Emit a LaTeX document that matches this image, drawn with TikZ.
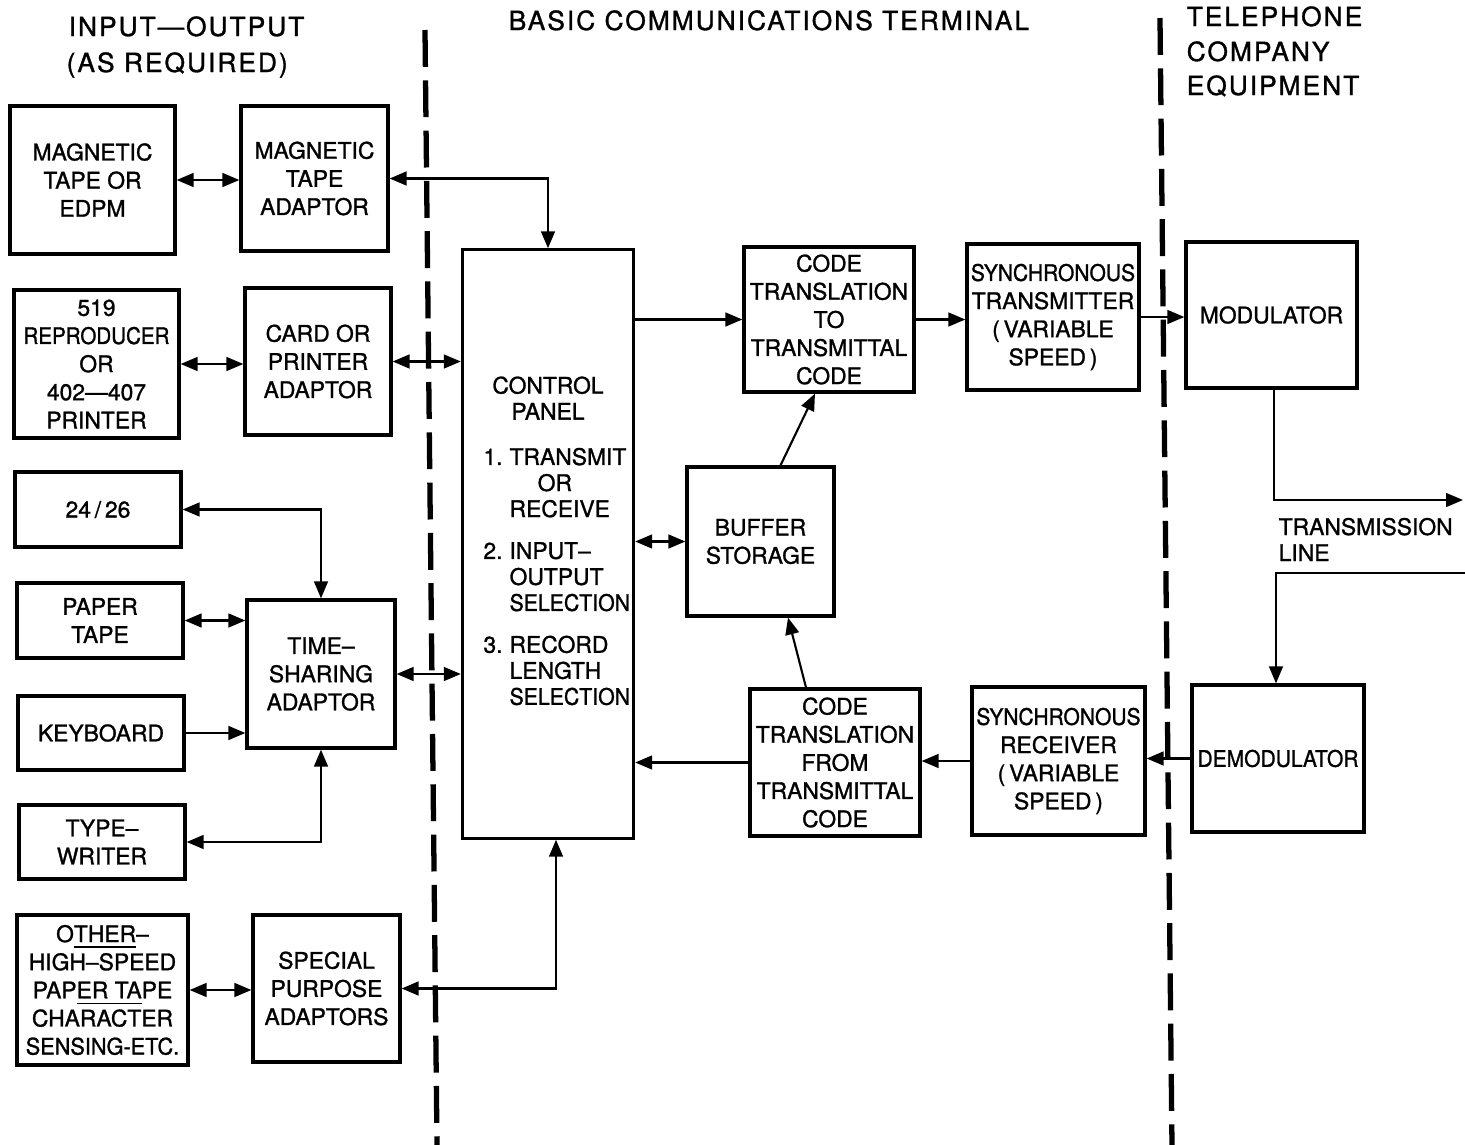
\documentclass[tikz,border=0pt]{standalone}
\usepackage{fontspec}
\setmainfont{TeX Gyre Heros}[FakeBold=1.2]
\usepackage{graphicx}
\usetikzlibrary{arrows.meta}

\newcommand{\squeeze}[2][0.9]{\scalebox{#1}[1]{#2}}

\begin{document}
\begin{tikzpicture}[
    x=0.01cm, y=-0.01cm,
    box/.style={draw, line width=0.9pt, align=center, inner sep=1pt, font=\fontsize{6.5pt}{8pt}\selectfont},
    head/.style={anchor=base west, inner sep=0pt, font=\fontsize{7.5pt}{10pt}\selectfont\addfontfeatures{LetterSpace=7.5}},
    label/.style={anchor=base west, inner sep=0pt, font=\fontsize{6.5pt}{8pt}\selectfont},
    link/.style={line width=0.6pt},
    divider/.style={line width=1.5pt, dash pattern=on 10.5pt off 3.8pt},
    >={Triangle[length=4.8pt, width=3.9pt]}
]

\useasboundingbox (0,0) rectangle (1465,1145);

\node[head] (ioA) at (68,36) {INPUT---OUTPUT};
\node[head] (ioB) at (66,72) {(AS REQUIRED)};
\node[head] (bct) at (508,30) {BASIC COMMUNICATIONS TERMINAL};
\node[head] (telA) at (1186,26) {TELEPHONE};
\node[head] (telB) at (1186,61) {COMPANY};
\node[head] (telC) at (1186,95) {EQUIPMENT};

\draw[divider] (425,30) -- (437,1145);
\draw[divider] (1160,18) -- (1172,1145);

\node[box, minimum width=1.65cm, minimum height=1.48cm] (mtape) at (92.5,180) {MAGNETIC\\TAPE OR\\EDPM};
\node[box, minimum width=1.47cm, minimum height=1.45cm] (mtadapt) at (314.5,178.5) {MAGNETIC\\TAPE\\ADAPTOR};
\node[box, minimum width=1.65cm, minimum height=1.48cm] (repro) at (96.5,364) {519\\\squeeze{REPRODUCER}\\OR\\402---407\\PRINTER};
\node[box, minimum width=1.46cm, minimum height=1.47cm] (cardadapt) at (318,361.5) {CARD OR\\PRINTER\\ADAPTOR};
\node[box, minimum width=1.66cm, minimum height=0.75cm] (tty) at (98,509.5) {24\,/\,26};
\node[box, minimum width=1.66cm, minimum height=0.75cm] (ptape) at (100,620.5) {PAPER\\TAPE};
\node[box, minimum width=1.48cm, minimum height=1.48cm] (tsadapt) at (321,674) {TIME--\\SHARING\\ADAPTOR};
\node[box, minimum width=1.66cm, minimum height=0.74cm] (keyboard) at (101,733) {KEYBOARD};
\node[box, minimum width=1.66cm, minimum height=0.74cm] (typewriter) at (102,842) {TYPE--\\WRITER};
\node[box, minimum width=1.71cm, minimum height=1.50cm] (other) at (102.5,990) {O\underline{THER}--\\HIGH--SPEED\\PAP\underline{ER TA}PE\\CHARACTER\\\squeeze[0.95]{SENSING-ETC.}};
\node[box, minimum width=1.47cm, minimum height=1.47cm] (special) at (326.5,988.5) {SPECIAL\\PURPOSE\\ADAPTORS};

\node[box, minimum width=1.70cm, minimum height=5.88cm, font=\fontsize{6.5pt}{7.4pt}\selectfont] (control) at (548,544) {%
\begin{tabular}{@{\hspace{5pt}}l@{\hspace{2pt}}l@{}}
\multicolumn{2}{c}{CONTROL}\\
\multicolumn{2}{c}{PANEL}\\[5.5pt]
1. & TRANSMIT\\
   & \hspace{8pt}OR\\
   & RECEIVE\\[4.5pt]
2. & INPUT--\\
   & OUTPUT\\
   & \squeeze[0.93]{SELECTION}\\[4.5pt]
3. & RECORD\\
   & LENGTH\\
   & \squeeze[0.93]{SELECTION}
\end{tabular}};

\node[box, minimum width=1.70cm, minimum height=1.45cm] (codeto) at (829,319.5) {CODE\\TRANSLATION\\TO\\TRANSMITTAL\\CODE};
\node[box, minimum width=1.72cm, minimum height=1.46cm] (synctx) at (1053,317) {\squeeze[0.92]{SYNCHRONOUS}\\TRANSMITTER\\(\,VARIABLE\\SPEED\,)};
\node[box, minimum width=1.47cm, minimum height=1.49cm] (buffer) at (760.5,541.5) {BUFFER\\STORAGE};
\node[box, minimum width=1.70cm, minimum height=1.47cm] (codefrom) at (835,762.5) {CODE\\TRANSLATION\\FROM\\TRANSMITTAL\\CODE};
\node[box, minimum width=1.73cm, minimum height=1.48cm] (syncrx) at (1058.5,761) {\squeeze[0.92]{SYNCHRONOUS}\\RECEIVER\\(\,VARIABLE\\SPEED\,)};
\node[box, minimum width=1.71cm, minimum height=1.46cm] (modulator) at (1271.5,315) {MODULATOR};
\node[box, minimum width=1.72cm, minimum height=1.47cm] (demod) at (1278,758.5) {\squeeze[0.92]{DEMODULATOR}};

\node[label] (lineA) at (1278,535) {TRANSMISSION};
\node[label] (lineB) at (1278,561) {LINE};

\coordinate (txline) at (1463,500);
\coordinate (rxline) at (1465,573);

\draw[link, <->] (mtape.east) -- (mtape.east -| mtadapt.west);
\draw[link, <->] (mtadapt.east) -| (control.north);
\draw[link, <->] (repro.east) -- (repro.east -| cardadapt.west);
\draw[link, <->] (cardadapt.east) -- (cardadapt.east -| control.west);
\draw[link, <->] (tty.east) -| (tsadapt.north);
\draw[link, <->] (ptape.east) -- (ptape.east -| tsadapt.west);
\draw[link, ->] (keyboard.east) -- (keyboard.east -| tsadapt.west);
\draw[link, <->] (typewriter.east) -| (tsadapt.south);
\draw[link, <->] (tsadapt.east) -- (tsadapt.east -| control.west);
\draw[link, <->] (other.east) -- (other.east -| special.west);
\draw[link, <->] (special.east) -| ([xshift=0.08cm]control.south);

\draw[link, ->] (control.east |- codeto.west) -- (codeto.west);
\draw[link, ->] (codeto.east) -- (codeto.east -| synctx.west);
\draw[link, ->] (synctx.east) -- (synctx.east -| modulator.west);
\draw[link, <->] (control.east |- buffer.west) -- (buffer.west);
\draw[link, ->] ([xshift=0.2cm]buffer.north) -- ([xshift=-0.14cm]codeto.south);
\draw[link, ->] ([xshift=-0.29cm]codefrom.north) -- ([xshift=0.275cm]buffer.south);
\draw[link, ->] (codefrom.west) -- (codefrom.west -| control.east);
\draw[link, ->] (syncrx.west) -- (syncrx.west -| codefrom.east);
\draw[link, ->] (demod.west) -- (demod.west -| syncrx.east);

\draw[link, ->] ([xshift=0.025cm]modulator.south) |- (txline);
\draw[link, ->] (rxline) -| ([xshift=-0.02cm]demod.north);

\end{tikzpicture}
\end{document}
